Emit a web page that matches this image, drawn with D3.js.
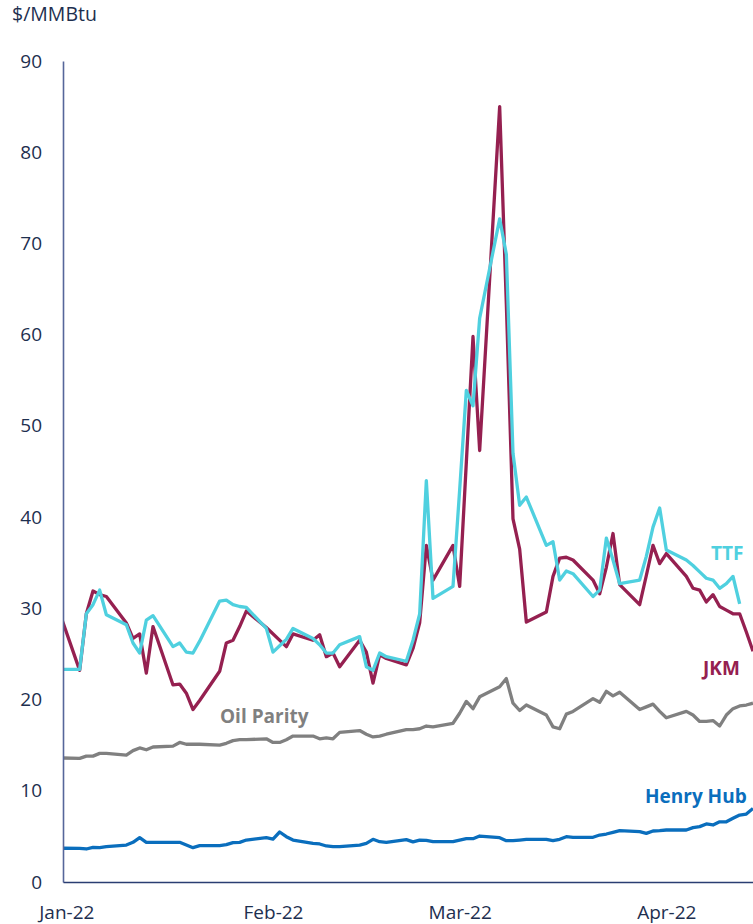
<!DOCTYPE html>
<html>
<head>
<meta charset="utf-8">
<script src="https://cdn.jsdelivr.net/npm/d3@7"></script>
<style>
  body { margin: 0; background: #fff; }
  text { font-family: "Open Sans", sans-serif; }
</style>
</head>
<body>
<svg width="753" height="924"></svg>
<script>
// days with a print, values in $/MMBtu (null = no print that day)
var dates = [
  "2021-12-31",
  "2022-01-03", "2022-01-04", "2022-01-05", "2022-01-06", "2022-01-07",
  "2022-01-10", "2022-01-11", "2022-01-12", "2022-01-13", "2022-01-14",
  "2022-01-17", "2022-01-18", "2022-01-19", "2022-01-20", "2022-01-21",
  "2022-01-24", "2022-01-25", "2022-01-26", "2022-01-27", "2022-01-28",
  "2022-01-31", "2022-02-01", "2022-02-02", "2022-02-03", "2022-02-04",
  "2022-02-07", "2022-02-08", "2022-02-09", "2022-02-10", "2022-02-11",
  "2022-02-14", "2022-02-15", "2022-02-16", "2022-02-17", "2022-02-18",
  "2022-02-21", "2022-02-22", "2022-02-23", "2022-02-24", "2022-02-25",
  "2022-02-28", "2022-03-01", "2022-03-02", "2022-03-03", "2022-03-04",
  "2022-03-07", "2022-03-08", "2022-03-09", "2022-03-10", "2022-03-11",
  "2022-03-14", "2022-03-15", "2022-03-16", "2022-03-17", "2022-03-18",
  "2022-03-21", "2022-03-22", "2022-03-23", "2022-03-24", "2022-03-25",
  "2022-03-28", "2022-03-29", "2022-03-30", "2022-03-31", "2022-04-01",
  "2022-04-04", "2022-04-05", "2022-04-06", "2022-04-07", "2022-04-08",
  "2022-04-09", "2022-04-10",
  "2022-04-11", "2022-04-12", "2022-04-13", "2022-04-14"
];

var jkm = [
  29.5,
  23.2, 29.4, 31.9, 31.5, 31.3,
  28.4, 26.7, 27.2, 22.9, 28.0,
  21.6, 21.7, 20.7, 18.9, 19.9,
  23.1, 26.2, 26.5, 28.0, 29.7,
  27.9, null, null, 25.8, 27.2,
  26.5, 27.1, 24.7, 25.1, 23.6,
  26.5, 25.2, 21.8, 24.9, 24.5,
  23.8, 25.6, 28.4, 36.9, 33.1,
  36.9, 32.4, 46.0, 59.8, 47.3,
  85.0, 63.4, 39.8, 36.5, 28.5,
  29.6, 33.5, 35.5, 35.6, 35.3,
  33.1, 31.6, 34.5, 38.2, 32.6,
  30.4, 33.6, 36.9, 34.9, 36.0,
  33.5, 32.2, 32.0, 30.7, 31.5,
  30.2, 29.8,
  29.4, 29.4, 27.4, 25.3
];

var ttf = [
  23.3,
  23.3, 29.4, 30.4, 32.0, 29.3,
  28.2, 26.2, 25.1, 28.7, 29.2,
  25.8, 26.2, 25.2, 25.1, 26.4,
  30.8, 30.9, 30.4, 30.2, 30.1,
  27.8, 25.2, 25.9, 26.6, 27.8,
  26.7, 26.0, 25.1, 25.1, 26.0,
  26.9, 23.6, 23.2, 25.1, 24.7,
  24.2, 26.5, 29.4, 44.0, 31.1,
  32.4, 43.0, 53.9, 52.2, 61.8,
  72.7, 68.8, 47.0, 41.3, 42.2,
  36.9, 37.3, 33.1, 34.1, 33.8,
  31.3, 32.0, 37.7, 35.3, 32.7,
  33.1, 35.7, 38.9, 41.0, 36.4,
  35.3, 34.7, 34.0, 33.3, 33.1,
  32.2, 32.7,
  33.5, 30.5, null, null
];

var oilParity = [
  13.6,
  13.55, 13.8, 13.8, 14.1, 14.1,
  13.9, 14.4, 14.7, 14.5, 14.8,
  14.9, 15.3, 15.1, 15.1, 15.1,
  15.0, 15.2, 15.5, 15.6, 15.6,
  15.7, 15.3, 15.3, 15.6, 16.0,
  16.0, 15.7, 15.8, 15.7, 16.4,
  16.6, 16.2, 15.9, 16.0, 16.2,
  16.7, 16.7, 16.8, 17.1, 17.0,
  17.4, 18.5, 19.8, 19.0, 20.3,
  21.4, 22.3, 19.6, 18.8, 19.4,
  18.3, 17.0, 16.8, 18.4, 18.7,
  20.1, 19.7, 20.9, 20.4, 20.8,
  18.9, 19.2, 19.5, 18.7, 18.0,
  18.7, 18.3, 17.6, 17.6, 17.7,
  17.1, 18.3,
  19.0, 19.3, 19.4, 19.6
];

var henryHub = [
  3.7,
  3.69, 3.62, 3.8, 3.76, 3.87,
  4.05, 4.35, 4.86, 4.35, 4.35,
  4.35, 4.35, 4.05, 3.76, 3.98,
  3.98, 4.09, 4.31, 4.35, 4.6,
  4.86, 4.71, 5.48, 4.97, 4.6,
  4.24, 4.17, 3.95, 3.87, 3.87,
  4.05, 4.24, 4.68, 4.42, 4.35,
  4.64, 4.4, 4.6, 4.57, 4.42,
  4.42, 4.6, 4.75, 4.75, 5.04,
  4.86, 4.53, 4.53, 4.6, 4.68,
  4.68, 4.53, 4.68, 4.97, 4.9,
  4.9, 5.15, 5.26, 5.44, 5.63,
  5.52, 5.33, 5.59, 5.63, 5.7,
  5.7, 5.96, 6.07, 6.36, 6.25,
  6.6, 6.6,
  6.98, 7.34, 7.45, 8.07
];

var yTicks = [0, 10, 20, 30, 40, 50, 60, 70, 80, 90];
var monthTicks = ["2022-01-01", "2022-02-01", "2022-03-01", "2022-04-01"];

var parseDate = d3.timeParse("%Y-%m-%d");

var svg = d3.select("svg"),
    margin = {top: 61, right: 0, bottom: 42, left: 63},
    width = +svg.attr("width") - margin.left - margin.right,
    height = +svg.attr("height") - margin.top - margin.bottom,
    g = svg.append("g").attr("transform", "translate(" + margin.left + "," + margin.top + ")");

// each day gets a band, points sit mid-band (Excel date axis style)
var x = d3.scaleTime()
    .domain([new Date(2021, 11, 31, 12), new Date(2022, 3, 14)])
    .range([0, width]);

var y = d3.scaleLinear()
    .domain([0, 90])
    .range([height, 0]);

var series = [
  {name: "Oil Parity", values: oilParity, color: "#808080"},
  {name: "Henry Hub", values: henryHub, color: "#0a6ebd"},
  {name: "JKM", values: jkm, color: "#952050"},
  {name: "TTF", values: ttf, color: "#4fd0df"}
];

svg.append("defs").append("clipPath")
    .attr("id", "plot")
  .append("rect")
    .attr("width", width)
    .attr("height", height);

var line = d3.line()
    .x(function(d) { return x(d.date); })
    .y(function(d) { return y(d.value); });

// drawing the lines (gaps are bridged like the original)
g.append("g")
    .attr("clip-path", "url(#plot)")
  .selectAll("path")
  .data(series)
  .enter().append("path")
    .attr("fill", "none")
    .attr("stroke", function(d) { return d.color; })
    .attr("stroke-width", 3.3)
    .attr("stroke-linejoin", "round")
    .attr("d", function(s) {
      var pts = dates.map(function(dt, i) { return {date: parseDate(dt), value: s.values[i]}; })
        .filter(function(p) { return p.value != null; });
      return line(pts);
    });

// y axis
var yAxis = g.append("g")
    .call(d3.axisLeft(y).tickValues(yTicks).tickSize(0).tickPadding(21));
yAxis.select(".domain").attr("stroke", "#56669a").attr("stroke-width", 1.6);
yAxis.selectAll("text")
    .attr("font-size", 19)
    .attr("fill", "#1e2f4f")
    .style("font-family", '"Open Sans", sans-serif');

// x axis
var xAxis = g.append("g")
    .attr("transform", "translate(0," + height + ")")
    .call(d3.axisBottom(x)
      .tickValues(monthTicks.map(parseDate))
      .tickFormat(d3.timeFormat("%b-%y"))
      .tickSize(0)
      .tickPadding(24));
xAxis.select(".domain").attr("stroke", "#2a3d72").attr("stroke-width", 1.6);
xAxis.selectAll("text")
    .attr("font-size", 19)
    .attr("fill", "#1e2f4f")
    .style("font-family", '"Open Sans", sans-serif');

// unit label
svg.append("text")
    .attr("x", 12)
    .attr("y", 21)
    .attr("font-size", 19.5)
    .attr("fill", "#1e2f4f")
    .text("$/MMBtu");

// series labels
var labels = [
  {text: "TTF", color: "#4fd0df", x: 711, y: 560},
  {text: "JKM", color: "#952050", x: 703, y: 675},
  {text: "Oil Parity", color: "#808080", x: 220, y: 723},
  {text: "Henry Hub", color: "#0a6ebd", x: 645, y: 803}
];

svg.append("g")
  .selectAll("text")
  .data(labels)
  .enter().append("text")
    .attr("x", function(d) { return d.x; })
    .attr("y", function(d) { return d.y; })
    .attr("font-size", 19)
    .attr("font-weight", 700)
    .attr("fill", function(d) { return d.color; })
    .text(function(d) { return d.text; });
</script>
</body>
</html>
